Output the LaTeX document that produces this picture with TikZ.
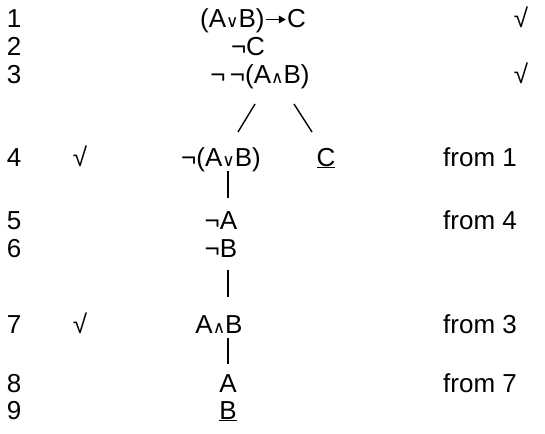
\documentclass[tikz,border=0pt]{standalone}
\usepackage{fontspec}
\usepackage{graphicx}
\usetikzlibrary{arrows.meta}
\setmainfont{Liberation Sans}
\newfontfamily\symfont{DejaVu Sans}
\newcommand{\myor}{{\symfont\fontsize{17}{17}\selectfont ∨}}
\newcommand{\myand}{{\symfont\fontsize{17}{17}\selectfont ∧}}
\newcommand{\myneg}{¬}
\newcommand{\myto}{\kern0.5pt\tikz[baseline=0pt]{\draw[line width=1.5pt,-{Triangle[length=7pt,width=7.5pt]}] (0pt,8.5pt) -- (20pt,8.5pt);}\kern0.5pt}
\begin{document}
\begin{tikzpicture}[x=1pt,y=-1pt,
  txt/.style={anchor=base, inner sep=0pt, font=\fontsize{26}{30}\selectfont},
  txtw/.style={anchor=base west, inner sep=0pt, font=\fontsize{26}{30}\selectfont},
  branch/.style={line width=1.4pt, black}]
\useasboundingbox (0,0) rectangle (545,433);
% line numbers
\node[txt] (n1) at (14,28) {1};
\node[txt] (n2) at (14,56) {2};
\node[txt] (n3) at (14,84) {3};
\node[txt] (n4) at (14,166) {4};
\node[txt] (n5) at (14,229) {5};
\node[txt] (n6) at (14,257) {6};
\node[txt] (n7) at (14,333) {7};
\node[txt] (n8) at (14,392) {8};
\node[txt] (n9) at (14,419) {9};
% left ticks
\node[txt] (c4) at (80,166) {√};
\node[txt] (c7) at (80,333) {√};
% formulas
\node[txt] (f1) at (253,28) {(A\myor B)\myto C};
\node[txt] (f2) at (248,56) {\myneg C};
\node[txt] (f3) at (260,84) {\myneg\,\myneg(A\myand B)};
\node[txt] (f4) at (221,166) {\myneg(A\myor B)};
\node[txt] (f4r) at (326,166) {\underline{C}};
\node[txt] (f5) at (221,229) {\myneg A};
\node[txt] (f6) at (221,257) {\myneg B};
\node[txt] (f7) at (219,333) {A\myand B};
\node[txt] (f8) at (228,392) {A};
\node[txt] (f9) at (228,419) {\underline{B}};
% right column
\node[txt] (r1) at (521,28) {√};
\node[txt] (r3) at (521,84) {√};
\node[txtw] (j4) at (443,166) {from 1};
\node[txtw] (j5) at (443,229) {from 4};
\node[txtw] (j7) at (443,333) {from 3};
\node[txtw] (j8) at (443,392) {from 7};
% branches
\coordinate (sla) at (255,104);
\coordinate (slb) at (238,132);
\coordinate (sra) at (294,104);
\coordinate (srb) at (312,132);
\draw[branch] (sla) -- (slb);
\draw[branch] (sra) -- (srb);
\coordinate (t45a) at (228,171);
\coordinate (t45b) at (228,198);
\coordinate (t67a) at (228,270);
\coordinate (t67b) at (228,297);
\coordinate (t78a) at (228,338);
\coordinate (t78b) at (228,364);
\draw[branch] (t45a) -- (t45b);
\draw[branch] (t67a) -- (t67b);
\draw[branch] (t78a) -- (t78b);
\end{tikzpicture}
\end{document}
